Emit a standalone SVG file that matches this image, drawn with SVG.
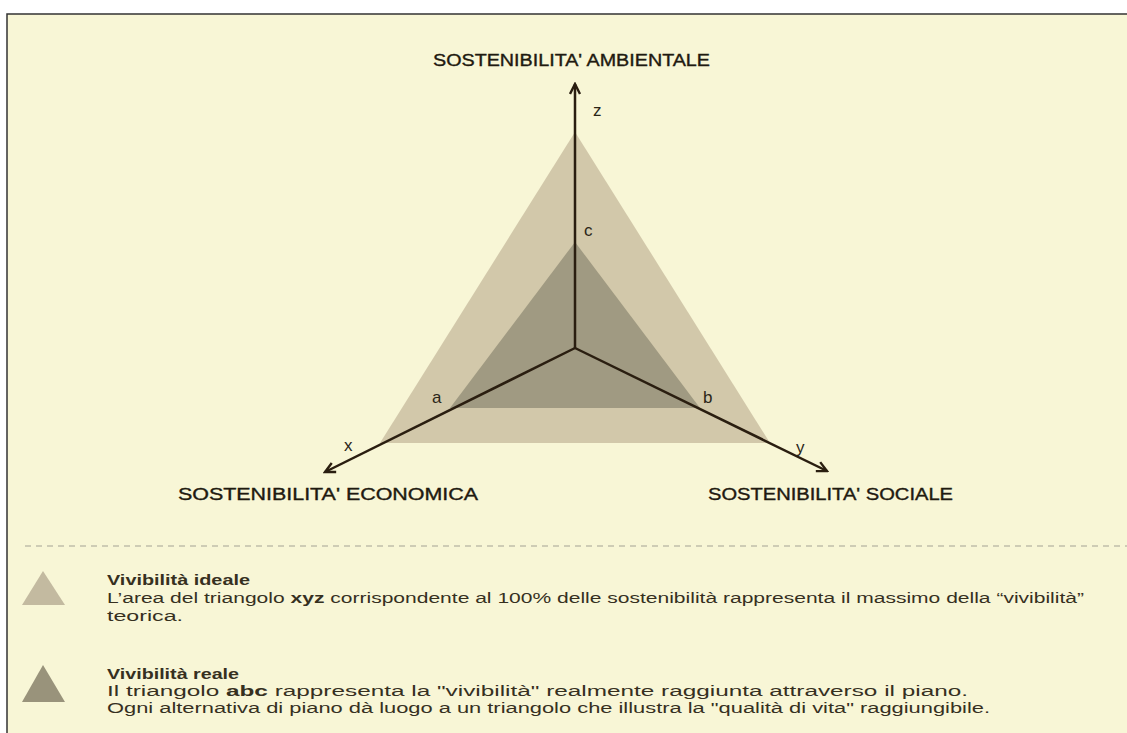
<svg xmlns="http://www.w3.org/2000/svg" width="1127" height="733" viewBox="0 0 1127 733">
<defs>
<style>
.t{font-family:"Liberation Sans",Arial,sans-serif;fill:#2b2618}
.h{font-size:16px;fill:#1f1a10;stroke:#1f1a10;stroke-width:0.35}
.lbl{font-size:17px}
.lg{font-size:15.5px;fill:#36301f}
.b{font-weight:bold}
.ax{stroke:#2a1e10;stroke-width:2.5;fill:none}
</style>
<marker id="arr" viewBox="0 0 13 13" refX="11" refY="6.5" markerWidth="13" markerHeight="13" markerUnits="userSpaceOnUse" orient="auto">
<path d="M1,1.5 L11,6.5 L1,11.5" fill="none" stroke="#2a1e10" stroke-width="2.4"/>
</marker>
</defs>
<rect x="0" y="0" width="1127" height="733" fill="#ffffff"/>
<rect x="7" y="14" width="1120" height="719" fill="#f8f6d6"/>
<path d="M7,733 L7,14 L1127,14" fill="none" stroke="#333" stroke-width="1.5"/>

<g id="outer-triangle"><polygon points="575,132 380,443 770,443" fill="#d2c8aa"/></g>
<g id="inner-triangle"><polygon points="575,242 450,408 700,408" fill="#a09a82"/></g>

<g id="connectors">
<line class="ax" x1="575" y1="348" x2="575" y2="84" marker-end="url(#arr)"/>
<line class="ax" x1="575" y1="348" x2="325" y2="472" marker-end="url(#arr)"/>
<line class="ax" x1="575" y1="348" x2="827" y2="471" marker-end="url(#arr)"/>
</g>

<g id="labels">
<text class="t h" x="433" y="66" textLength="277" lengthAdjust="spacingAndGlyphs">SOSTENIBILITA' AMBIENTALE</text>
<text class="t h" x="178" y="500" textLength="300" lengthAdjust="spacingAndGlyphs">SOSTENIBILITA' ECONOMICA</text>
<text class="t h" x="708" y="500" textLength="245" lengthAdjust="spacingAndGlyphs">SOSTENIBILITA' SOCIALE</text>
<text class="t lbl" x="593" y="116">z</text>
<text class="t lbl" x="584" y="236">c</text>
<text class="t lbl" x="432" y="403">a</text>
<text class="t lbl" x="703" y="403">b</text>
<text class="t lbl" x="344" y="451">x</text>
<text class="t lbl" x="796" y="453">y</text>
</g>

<line x1="25" y1="546" x2="1127" y2="546" stroke="#a4a294" stroke-width="1.2" stroke-dasharray="6,5"/>

<g id="legend-ideale">
<polygon points="43,571 22,605 65,605" fill="#c3baa0"/>
<text class="t lg b" x="107" y="585" textLength="143" lengthAdjust="spacingAndGlyphs">Vivibilità ideale</text>
<text class="t lg" x="107" y="603" textLength="977" lengthAdjust="spacingAndGlyphs">L’area del triangolo <tspan class="b">xyz</tspan> corrispondente al 100% delle sostenibilità rappresenta il massimo della “vivibilità”</text>
<text class="t lg" x="107" y="621" textLength="76" lengthAdjust="spacingAndGlyphs">teorica.</text>
</g>

<g id="legend-reale">
<polygon points="43,665 22,702 65,702" fill="#99937b"/>
<text class="t lg b" x="107" y="679" textLength="132" lengthAdjust="spacingAndGlyphs">Vivibilità reale</text>
<text class="t lg" x="107" y="696" textLength="861" lengthAdjust="spacingAndGlyphs">Il triangolo <tspan class="b">abc</tspan> rappresenta la "vivibilità" realmente raggiunta attraverso il piano.</text>
<text class="t lg" x="107" y="713" textLength="883" lengthAdjust="spacingAndGlyphs">Ogni alternativa di piano dà luogo a un triangolo che illustra la "qualità di vita" raggiungibile.</text>
</g>
</svg>
